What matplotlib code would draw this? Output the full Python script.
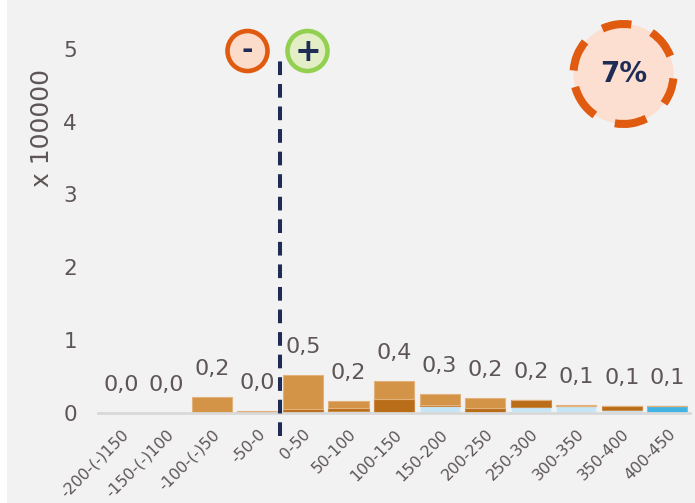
import numpy as np
import matplotlib.pyplot as plt
from matplotlib.patches import Circle, Rectangle, Arc

# distance classes (m) and stacked volumes (x 100000)
classes = ['-200-(-)150', '-150-(-)100', '-100-(-)50', '-50-0', '0-50', '50-100',
           '100-150', '150-200', '200-250', '250-300', '300-350', '350-400', '400-450']
blue       = [0, 0, 0, 0, 0, 0, 0, 0, 0, 0.015, 0, 0, 0.096]
light_blue = [0, 0, 0, 0, 0, 0.03, 0, 0.10, 0, 0.065, 0.09, 0.045, 0]
dark_orange = [0, 0, 0, 0, 0.05, 0.045, 0.19, 0.01, 0.065, 0.096, 0.01, 0.055, 0]
light_orange = [0, 0, 0.22, 0.03, 0.47, 0.09, 0.25, 0.15, 0.145, 0, 0.01, 0, 0]
share_label = '7%'

txt = '#5e5656'
navy = '#1f2d56'
orange = '#e05a10'

plt.rcParams['font.family'] = 'DejaVu Sans'
fig = plt.figure(figsize=(6.95, 5.03), dpi=100, facecolor='#f2f2f2')
fig.add_artist(Rectangle((0, 0), 7 / 695, 1, transform=fig.transFigure,
                         facecolor='white', edgecolor='none'))
ax = fig.add_axes([0.141, 0.179, 0.852, 0.724])
ax.set_facecolor('#f2f2f2')

x = np.arange(len(classes))
layers = [(blue, '#41b4e4', '#6cc6ec'),
          (light_blue, '#c6e6f6', '#dff1fa'),
          (dark_orange, '#b96d18', '#c98a45'),
          (light_orange, '#d49448', '#e3b27a')]
bottom = np.zeros(len(classes))
for vals, col, edge in layers:
    vals = np.array(vals)
    ax.bar(x, vals, width=0.88, bottom=bottom, color=col, edgecolor=edge,
           linewidth=0.8)
    bottom += vals

totals = bottom
for xi, t in zip(x, totals):
    ax.text(xi, t + 0.38, f'{t:.1f}'.replace('.', ','), ha='center', va='center',
            fontsize=16, color=txt)

# boundary between negative and positive classes
ax.plot([3.5, 3.5], [-0.32, 4.89], color=navy, lw=2.9, ls=(0, (3.4, 2.2)),
        clip_on=False, zorder=5)

ax.set_xlim(-0.5, 12.5)
ax.set_ylim(0, 5)
ax.set_xticks(x)
ax.set_xticklabels(classes, rotation=45, ha='right', va='top',
                   rotation_mode='anchor', fontsize=11.3, color=txt)
ax.set_yticks(range(6))
ax.set_yticklabels([str(i) for i in range(6)], fontsize=15.5, color=txt)
ax.tick_params(axis='both', length=0)
ax.tick_params(axis='y', pad=15)
ax.tick_params(axis='x', pad=10)
ax.set_ylabel('x 100000', fontsize=18, color=txt, va='center')
ax.yaxis.set_label_coords(-0.095, 0.783)
for s in ['top', 'right', 'left']:
    ax.spines[s].set_visible(False)
ax.spines['bottom'].set_color('#d9d9d9')
ax.spines['bottom'].set_linewidth(2)

# sign markers and share badge, placed in inches
H = 5.03
tr = fig.dpi_scale_trans
fig.add_artist(Circle((2.475, H - 0.51), 0.20, transform=tr, facecolor='#fbdccb',
                      edgecolor=orange, lw=3.3))
fig.text(2.475, H - 0.505, '-', transform=tr, ha='center', va='center',
         fontsize=20, fontweight='bold', color=navy)
fig.add_artist(Circle((3.075, H - 0.51), 0.20, transform=tr, facecolor='#e3eec6',
                      edgecolor='#93d050', lw=3.3))
fig.text(3.075, H - 0.525, '+', transform=tr, ha='center', va='center',
         fontsize=23, fontweight='bold', color=navy)

cx, cy, r = 6.235, H - 0.74, 0.50
fig.add_artist(Circle((cx, cy), r, transform=tr, facecolor='#fcdfd0',
                      edgecolor='none'))
for a1, a2 in [(81, 115), (21, 56), (-36, -5), (-100, -63), (-165, -125), (140, 176)]:
    fig.add_artist(Arc((cx, cy), 2 * r, 2 * r, theta1=a1, theta2=a2, transform=tr,
                       edgecolor=orange, lw=5.8, capstyle='butt'))
fig.text(cx, cy, share_label, transform=tr, ha='center', va='center',
         fontsize=20, fontweight='bold', color=navy)

fig.savefig('out.png', dpi=100, facecolor=fig.get_facecolor())
